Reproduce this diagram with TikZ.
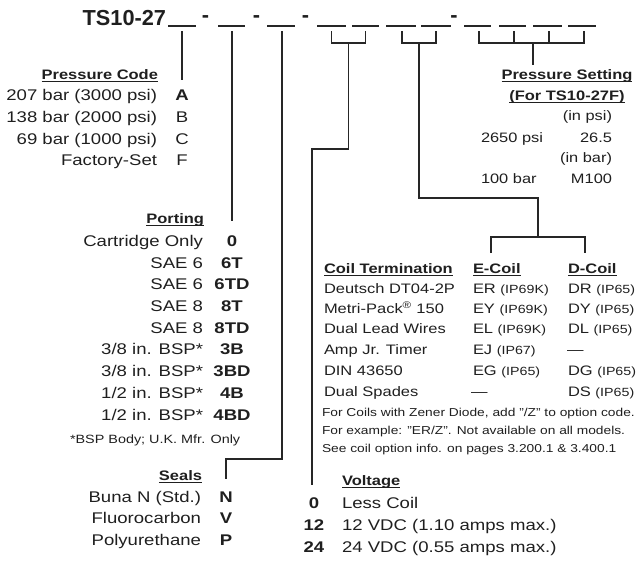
\documentclass[tikz,border=0pt]{standalone}
\usepackage{fontspec}
\setmainfont{Liberation Sans}[FakeStretch=1.2]
\newfontfamily\plainf{Liberation Sans}
\newcommand\myul[1]{\setbox0\hbox{#1}\rlap{\rule[-2.3pt]{\wd0}{0.75pt}}\box0}
\newcommand\ipx[1]{{\fontsize{8.9}{10}\selectfont(#1)}}
\tikzset{
  lbl/.style={inner sep=0pt, outer sep=0pt, text=black!88},
  bodyt/.style={lbl, font=\fontsize{11.6}{13}\selectfont},
  codet/.style={lbl, anchor=base, font=\bfseries\fontsize{11.6}{13}\selectfont},
  codereg/.style={lbl, anchor=base, font=\fontsize{11.6}{13}\selectfont},
  headt/.style={lbl, font=\bfseries\fontsize{10.3}{12}\selectfont},
  coilt/.style={lbl, anchor=base west, font=\fontsize{10.3}{12}\selectfont},
  pst/.style={lbl, font=\fontsize{10.25}{12}\selectfont},
  notet/.style={lbl, anchor=base west, font=\fontsize{8.6}{10}\selectfont},
  titlet/.style={lbl, font=\plainf\bfseries\fontsize{16.3}{18}\selectfont},
  conn/.style={line width=0.9pt, draw=black!85},
  blank/.style={line width=0.9pt, draw=black!85},
}
\begin{document}
\begin{tikzpicture}[x=0.75pt, y=-0.75pt]
\useasboundingbox (0,0) rectangle (637,562);
% ---------- title line ----------
\node[titlet, anchor=base east] (title) at (166,25) {TS10-27};
\foreach \a/\b in {168/196,218/245,267/295,317/346,352/379,386/416,421/451,464/491,499/526,533/562,568/596}
  {\draw[blank] (\a,26) -- (\b,26);}
\node[titlet, anchor=base] (d1) at (205.5,22) {-};
\node[titlet, anchor=base] (d2) at (256.5,22) {-};
\node[titlet, anchor=base] (d3) at (305.5,22) {-};
\node[titlet, anchor=base] (d4) at (454,22) {-};
% ---------- pressure code ----------
\node[headt, anchor=base east] (hpc) at (158,79) {\myul{Pressure Code}};
\node[bodyt, anchor=base east] (pat) at (157,100) {207 bar (3000 psi)};
\node[bodyt, anchor=base east] (pbt) at (157,122) {138 bar (2000 psi)};
\node[bodyt, anchor=base east] (pct) at (157,144) {69 bar (1000 psi)};
\node[bodyt, anchor=base east] (pft) at (157,165) {Factory-Set};
\node[codet] (pa) at (182,100) {A};
\node[codereg] (pb) at (182,122) {B};
\node[codereg] (pc) at (182,144) {C};
\node[codereg] (pf) at (182,165) {F};
% ---------- porting ----------
\node[headt, anchor=base east] (hpo) at (204,223) {\myul{Porting}};
\node[bodyt, anchor=base east] (po1t) at (203,246) {Cartridge Only};
\node[bodyt, anchor=base east] (po2t) at (203,268) {SAE 6};
\node[bodyt, anchor=base east] (po3t) at (203,289) {SAE 6};
\node[bodyt, anchor=base east] (po4t) at (203,311) {SAE 8};
\node[bodyt, anchor=base east] (po5t) at (203,333) {SAE 8};
\node[bodyt, anchor=base east] (po6t) at (203,354) {3/8 in. BSP*};
\node[bodyt, anchor=base east] (po7t) at (203,376) {3/8 in. BSP*};
\node[bodyt, anchor=base east] (po8t) at (203,398) {1/2 in. BSP*};
\node[bodyt, anchor=base east] (po9t) at (203,420) {1/2 in. BSP*};
\node[codet] (po1) at (232,246) {0};
\node[codet] (po2) at (232,268) {6T};
\node[codet] (po3) at (232,289) {6TD};
\node[codet] (po4) at (232,311) {8T};
\node[codet] (po5) at (232,333) {8TD};
\node[codet] (po6) at (232,354) {3B};
\node[codet] (po7) at (232,376) {3BD};
\node[codet] (po8) at (232,398) {4B};
\node[codet] (po9) at (232,420) {4BD};
\node[lbl, anchor=base west, font=\fontsize{9}{10}\selectfont] (bspn) at (70,443) {*BSP Body; U.K. Mfr. Only};
% ---------- seals ----------
\node[headt, anchor=base east] (hse) at (202,480) {\myul{Seals}};
\node[bodyt, anchor=base east] (s1t) at (201,502) {Buna N (Std.)};
\node[bodyt, anchor=base east] (s2t) at (201,523) {Fluorocarbon};
\node[bodyt, anchor=base east] (s3t) at (201,545) {Polyurethane};
\node[codet] (s1) at (226,502) {N};
\node[codet] (s2) at (226,523) {V};
\node[codet] (s3) at (226,545) {P};
% ---------- voltage ----------
\node[headt, anchor=base west] (hvo) at (342,485) {\myul{Voltage}};
\node[codet] (v1) at (314,508) {0};
\node[codet] (v2) at (314,530) {12};
\node[codet] (v3) at (314,552) {24};
\node[bodyt, anchor=base west] (v1t) at (342,508) {Less Coil};
\node[bodyt, anchor=base west] (v2t) at (342,530) {12 VDC (1.10 amps max.)};
\node[bodyt, anchor=base west] (v3t) at (342,552) {24 VDC (0.55 amps max.)};
% ---------- coil termination ----------
\node[headt, anchor=base west] (hct) at (324,273) {\myul{Coil Termination}};
\node[headt, anchor=base west] (hec) at (473,273) {\myul{E-Coil}};
\node[headt, anchor=base west] (hdc) at (568,273) {\myul{D-Coil}};
\node[coilt] (c1) at (324,293) {Deutsch DT04-2P};
\node[coilt] (c2) at (324,313) {Metri-Pack\textsuperscript{®} 150};
\node[coilt] (c3) at (324,333) {Dual Lead Wires};
\node[coilt] (c4) at (324,354) {Amp Jr. Timer};
\node[coilt] (c5) at (324,375) {DIN 43650};
\node[coilt] (c6) at (324,396) {Dual Spades};
\node[coilt] (e1) at (473,293) {ER \ipx{IP69K}};
\node[coilt] (e2) at (473,313) {EY \ipx{IP69K}};
\node[coilt] (e3) at (473,333) {EL \ipx{IP69K}};
\node[coilt] (e4) at (473,354) {EJ \ipx{IP67}};
\node[coilt] (e5) at (473,375) {EG \ipx{IP65}};
\node[coilt] (e6) at (471,396) {—};
\node[coilt] (f1) at (568,293) {DR \ipx{IP65}};
\node[coilt] (f2) at (568,313) {DY \ipx{IP65}};
\node[coilt] (f3) at (568,333) {DL \ipx{IP65}};
\node[coilt] (f4) at (567,354) {—};
\node[coilt] (f5) at (568,375) {DG \ipx{IP65}};
\node[coilt] (f6) at (568,396) {DS \ipx{IP65}};
\node[notet] (n1) at (322,416) {For Coils with Zener Diode, add "/Z" to option code.};
\node[notet] (n2) at (322,434) {For example: "ER/Z". Not available on all models.};
\node[notet] (n3) at (322,452) {See coil option info. on pages 3.200.1 \& 3.400.1};
% ---------- pressure setting ----------
\node[headt, anchor=base] (hps) at (567,79) {\myul{Pressure Setting}};
\node[headt, anchor=base] (hps2) at (567,100) {\myul{(For TS10-27F)}};
\node[pst, anchor=base east] (ps1) at (612,120) {(in psi)};
\node[pst, anchor=base west] (ps2t) at (481,142) {2650 psi};
\node[pst, anchor=base east] (ps2) at (612,142) {26.5};
\node[pst, anchor=base east] (ps3) at (612,162) {(in bar)};
\node[pst, anchor=base west] (ps4t) at (481,183) {100 bar};
\node[pst, anchor=base east] (ps4) at (612,183) {M100};
% ---------- connectors ----------
\coordinate (t1) at (182,31);  \coordinate (t1e) at (182,80);
\coordinate (t2) at (232,31);  \coordinate (t2e) at (232,221);
\coordinate (t3) at (282,31);  \coordinate (t3k) at (282,459); \coordinate (t3e) at (226,479);
\draw[conn] (t1) -- (t1e);
\draw[conn] (t2) -- (t2e);
\draw[conn] (t3) -- (t3k) -| (t3e);
% bracket 1 -> voltage
\coordinate (b1a) at (331.5,31); \coordinate (b1b) at (365.5,31);
\coordinate (b1m) at (348.5,43); \coordinate (b1k) at (348.5,149); \coordinate (b1e) at (312,485);
\draw[conn] (b1a) |- (b1b |- b1m) -- (b1b);
\draw[conn] (b1m) -- (b1k) -| (b1e);
% bracket 2 -> coil
\coordinate (b2a) at (402,31); \coordinate (b2b) at (436,31);
\coordinate (b2m) at (419,43); \coordinate (b2k) at (419,198); \coordinate (b2c) at (538,237);
\coordinate (ca) at (491,253); \coordinate (cb) at (585,253);
\draw[conn] (b2a) |- (b2b |- b2m) -- (b2b);
\draw[conn] (b2m) -- (b2k) -| (b2c);
\draw[conn] (ca) |- (cb |- b2c) -- (cb);
% bracket 3 -> pressure setting
\coordinate (b3a) at (479,31); \coordinate (b3b) at (514,31); \coordinate (b3c) at (549,31); \coordinate (b3d) at (584,31);
\coordinate (b3m) at (533,43); \coordinate (b3e) at (533,65);
\draw[conn] (b3a) |- (b3d |- b3m) -- (b3d);
\draw[conn] (b3b) -- (b3b |- b3m);
\draw[conn] (b3c) -- (b3c |- b3m);
\draw[conn] (b3m) -- (b3e);
\end{tikzpicture}
\end{document}
